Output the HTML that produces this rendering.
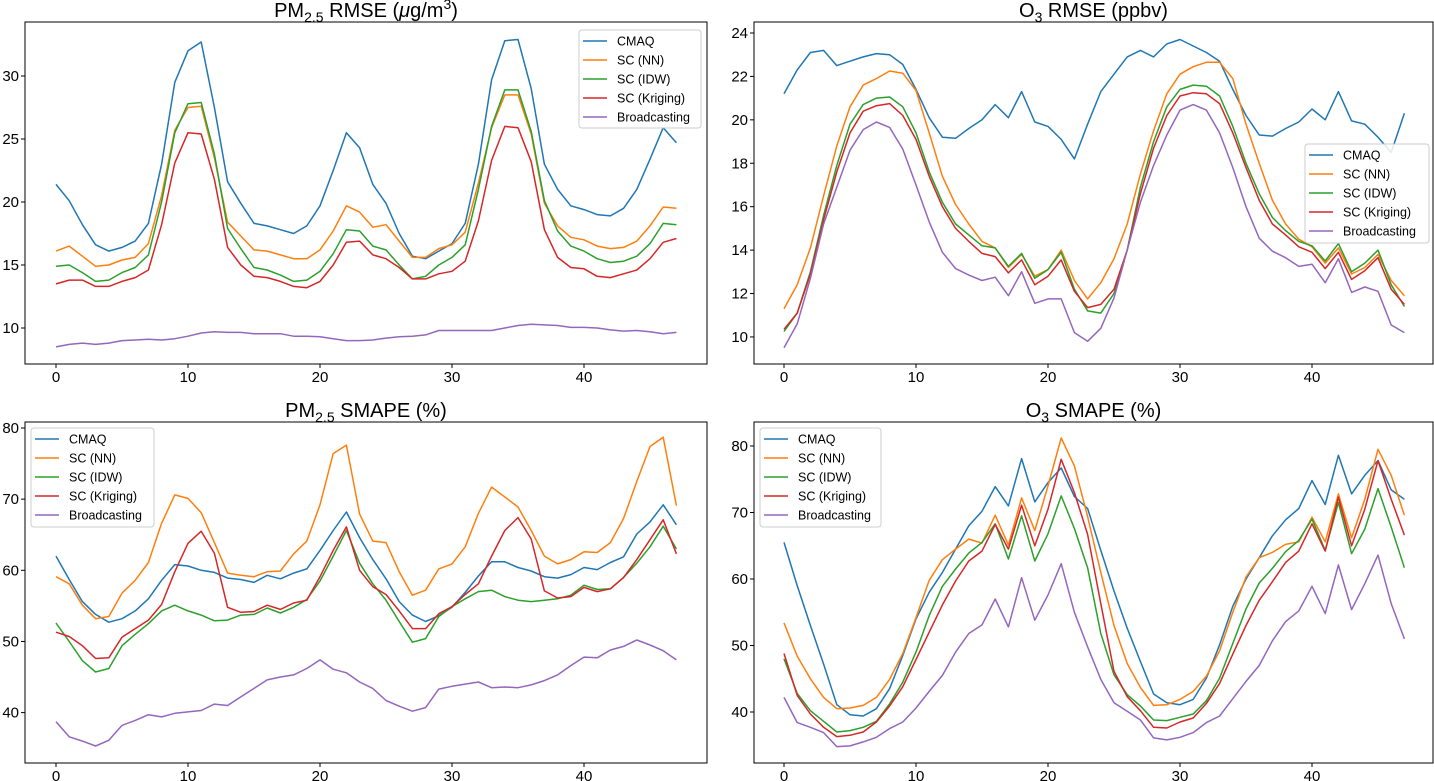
<!DOCTYPE html>
<html><head><meta charset="utf-8"><style>
html,body{margin:0;padding:0;background:#fff;}
svg{display:block;font-family:"Liberation Sans","DejaVu Sans",sans-serif;}
</style></head><body>
<svg id="fig" width="1434" height="781" viewBox="0 0 1434 781" xmlns="http://www.w3.org/2000/svg"></svg>
<script>
const seriesNames = ["CMAQ","SC (NN)","SC (IDW)","SC (Kriging)","Broadcasting"];
const colors = ["#1f77b4","#ff7f0e","#2ca02c","#d62728","#9467bd"];
const xTicks = [0,10,20,30,40];

const pmRmseCMAQ = [21.4,20.1,18.2,16.6,16.1,16.4,16.9,18.3,23,29.5,32,32.7,27.5,21.6,19.9,18.3,18.1,17.8,17.5,18.1,19.7,22.5,25.5,24.3,21.4,19.9,17.5,15.7,15.5,16.1,16.7,18.3,23,29.7,32.8,32.9,29,23,21,19.7,19.4,19.0,18.9,19.5,21,23.4,25.9,24.7];
const pmRmseNN = [16.1,16.5,15.7,14.9,15.0,15.4,15.6,16.7,20.5,25.7,27.5,27.6,23.5,18.4,17.3,16.2,16.1,15.8,15.5,15.5,16.2,17.7,19.7,19.2,18.0,18.2,16.9,15.6,15.6,16.3,16.6,17.6,21.5,25.9,28.5,28.5,25.4,19.9,18.1,17.2,17.0,16.5,16.3,16.4,16.9,18.1,19.6,19.5];
const pmRmseIDW = [14.9,15.0,14.4,13.7,13.8,14.4,14.8,15.8,20,25.5,27.8,27.9,23.8,17.9,16.3,14.8,14.6,14.2,13.7,13.8,14.5,15.9,17.8,17.7,16.5,16.2,15.0,13.9,14.1,15.0,15.6,16.6,21,26,28.9,28.9,25.6,20.1,17.7,16.5,16.1,15.5,15.2,15.3,15.7,16.7,18.3,18.2];
const pmRmseKrig = [13.5,13.8,13.8,13.3,13.3,13.7,14.0,14.6,18.2,23.1,25.5,25.4,21.8,16.4,15.0,14.1,14.0,13.7,13.3,13.2,13.7,15.0,16.8,16.9,15.8,15.5,14.8,13.9,13.9,14.3,14.5,15.3,18.5,23.3,26,25.9,23.2,17.8,15.6,14.8,14.7,14.1,14.0,14.3,14.6,15.5,16.8,17.1];
const pmRmseBroad = [8.5,8.7,8.8,8.7,8.8,9.0,9.05,9.1,9.05,9.15,9.35,9.6,9.7,9.65,9.65,9.55,9.55,9.55,9.35,9.35,9.3,9.15,9.0,9.0,9.05,9.2,9.3,9.35,9.45,9.8,9.8,9.8,9.8,9.8,10.0,10.2,10.3,10.25,10.2,10.05,10.05,10.0,9.85,9.75,9.8,9.7,9.55,9.65];
const pmRmseYTicks = [10,15,20,25,30];

const o3RmseCMAQ = [21.2,22.3,23.1,23.2,22.5,22.7,22.9,23.05,23,22.55,21.4,20.1,19.2,19.15,19.6,20.0,20.7,20.1,21.3,19.9,19.7,19.1,18.2,19.8,21.3,22.1,22.9,23.2,22.9,23.5,23.7,23.4,23.1,22.7,21.4,20.2,19.3,19.25,19.6,19.9,20.5,20.0,21.3,19.95,19.8,19.2,18.5,20.3];
const o3RmseNN = [11.3,12.4,14.1,16.5,18.8,20.6,21.6,21.9,22.25,22.15,21.35,19.4,17.4,16.1,15.2,14.4,14.1,13.2,13.8,12.8,13.1,14.0,12.6,11.75,12.5,13.6,15.2,17.5,19.5,21.2,22.1,22.45,22.65,22.65,21.9,19.8,18.0,16.3,15.2,14.5,14.15,13.4,14.1,12.9,13.2,13.8,12.6,11.9];
const o3RmseIDW = [10.25,11.1,13.0,15.6,17.9,19.8,20.7,21.0,21.05,20.6,19.4,17.6,16.2,15.2,14.7,14.2,14.1,13.25,13.85,12.7,13.1,13.9,12.2,11.2,11.1,12.0,14.0,16.9,19.0,20.6,21.4,21.6,21.55,21.1,19.7,18.0,16.6,15.5,14.9,14.4,14.2,13.5,14.3,13.0,13.4,14.0,12.4,11.4];
const o3RmseKrig = [10.35,11.1,12.9,15.4,17.6,19.4,20.4,20.65,20.75,20.2,19.1,17.4,16.0,15.0,14.4,13.85,13.7,12.95,13.55,12.4,12.8,13.55,12.1,11.35,11.5,12.2,14.0,16.6,18.7,20.2,21.1,21.25,21.2,20.75,19.4,17.8,16.3,15.2,14.7,14.15,13.9,13.15,13.9,12.65,13.05,13.65,12.2,11.5];
const o3RmseBroad = [9.5,10.6,12.7,15.2,16.9,18.6,19.55,19.9,19.65,18.65,17.0,15.3,13.9,13.15,12.85,12.6,12.75,11.9,13.0,11.55,11.75,11.75,10.2,9.8,10.4,11.8,14.0,16.2,17.9,19.3,20.45,20.7,20.45,19.4,17.8,16.0,14.55,13.95,13.65,13.25,13.35,12.5,13.6,12.05,12.3,12.1,10.55,10.2];
const o3RmseYTicks = [10,12,14,16,18,20,22,24];

const pmSmapeCMAQ = [62.0,58.7,55.6,53.8,52.7,53.2,54.3,56.0,58.6,60.8,60.6,60.0,59.7,58.9,58.7,58.3,59.3,58.8,59.6,60.2,62.8,65.6,68.2,64.6,61.5,58.8,55.6,53.7,52.8,53.6,54.8,56.9,59.2,61.2,61.2,60.4,59.9,59.1,58.9,59.4,60.4,60.1,61.1,61.9,65.1,66.8,69.2,66.4];
const pmSmapeNN = [59.1,58.1,55.1,53.2,53.5,56.8,58.6,61.1,66.6,70.6,70.1,68.1,63.9,59.6,59.3,59.1,59.8,59.9,62.3,64.1,69.2,76.4,77.6,67.9,64.1,63.9,59.8,56.5,57.2,60.2,60.9,63.3,68.0,71.7,70.3,68.9,65.6,62.0,60.9,61.5,62.6,62.5,63.9,67.3,72.5,77.4,78.7,69.1];
const pmSmapeIDW = [52.6,50.0,47.3,45.7,46.2,49.4,51.0,52.5,54.3,55.1,54.3,53.7,52.9,53.0,53.7,53.8,54.7,54.0,54.8,55.9,58.5,62.0,65.6,61.0,58.1,55.8,52.8,49.9,50.4,53.5,54.9,56.0,57.0,57.2,56.3,55.8,55.6,55.8,56.0,56.5,57.9,57.3,57.4,59.0,61.0,63.3,66.2,63.0];
const pmSmapeKrig = [51.3,50.7,49.4,47.6,47.7,50.6,51.8,53.0,55.2,59.8,63.8,65.5,62.4,54.8,54.1,54.2,55.1,54.5,55.4,55.8,59.1,62.8,66.1,60.0,57.7,56.6,54.3,51.8,51.8,53.9,54.9,56.6,58.1,62.0,65.6,67.4,64.4,57.1,56.1,56.3,57.6,57.0,57.4,59.0,61.5,64.3,67.1,62.3];
const pmSmapeBroad = [38.7,36.6,36.0,35.3,36.1,38.2,38.9,39.7,39.4,39.9,40.1,40.3,41.2,41.0,42.2,43.4,44.6,45.0,45.3,46.2,47.4,46.1,45.6,44.3,43.4,41.7,40.9,40.2,40.7,43.3,43.7,44.0,44.3,43.5,43.6,43.5,43.9,44.5,45.3,46.6,47.8,47.7,48.8,49.3,50.2,49.5,48.7,47.4];
const pmSmapeYTicks = [40,50,60,70,80];

const o3SmapeCMAQ = [65.5,59,53,47.2,41.1,39.6,39.4,40.5,43.5,48.5,54.0,58.0,61.0,64.5,68.0,70.2,73.9,71.0,78.1,71.6,74.5,76.7,72.4,70.6,64.3,58.2,52.6,47.6,42.7,41.4,41.1,41.9,45.1,50.1,55.9,60.0,63.2,66.5,68.9,70.6,74.8,71.2,78.6,72.8,75.6,77.8,73.4,72.0];
const o3SmapeNN = [53.4,48.4,45.0,42.2,40.5,40.6,41.0,42.2,44.9,48.8,54.2,59.8,62.9,64.5,66.0,65.4,69.6,65.1,72.2,67.3,74.0,81.2,77.0,69.4,61.0,53.0,47.3,43.7,41.0,41.1,41.9,43.1,45.4,49.2,55.0,60.3,63.2,64.0,65.2,65.6,69.3,65.6,72.8,66.2,72.0,79.5,75.6,69.6];
const o3SmapeIDW = [48.0,42.8,40.2,38.6,37.0,37.2,37.7,38.6,41.2,44.5,49.0,54.5,58.9,61.5,63.9,65.5,68.3,63.0,69.5,62.7,66.8,72.5,67.6,61.7,51.8,45.6,42.6,40.9,38.8,38.7,39.2,39.7,41.7,45.1,50.3,55.5,59.4,61.6,64.1,65.8,69.0,64.3,71.5,63.8,67.5,73.6,67.8,61.7];
const o3SmapeKrig = [48.8,42.5,39.7,37.7,36.3,36.5,37.0,38.5,40.9,43.8,47.9,52.0,56.1,59.7,62.7,64.2,68.2,64.5,71.1,65.0,70.5,78.0,73.0,66.7,56.3,46.1,42.3,40.2,37.7,37.6,38.5,39.1,41.3,44.3,48.7,53.0,56.8,59.6,62.5,64.2,68.3,64.2,72.3,65.0,70.5,77.8,72.0,66.6];
const o3SmapeBroad = [42.2,38.4,37.7,36.9,34.8,34.9,35.5,36.2,37.5,38.5,40.6,43.1,45.5,49.0,51.8,53.1,57.0,52.8,60.2,53.8,57.6,62.3,55.0,49.8,44.9,41.4,40.1,38.8,36.1,35.8,36.2,36.9,38.4,39.4,42.0,44.6,47.0,50.7,53.6,55.2,58.9,54.8,62.1,55.4,59.3,63.6,56.3,51.0];
const o3SmapeYTicks = [40,50,60,70,80];

const NS = "http://www.w3.org/2000/svg";
const svg = document.getElementById("fig");
function mk(tag, attrs, parent){
  const e = document.createElementNS(NS, tag);
  for (const k in attrs) e.setAttribute(k, attrs[k]);
  (parent||svg).appendChild(e);
  return e;
}

const panels = [
  {key:"pm25-rmse", sub:"2.5", pre:"PM", post:" RMSE (", unitItalic:"μ", post2:"g/m", sup:"3", post3:")",
   L:25,R:707,T:22,B:364, x0:56, xs:13.2, yv0:30, yp0:76, ys:12.6, xlab:18,
   series:[pmRmseCMAQ,pmRmseNN,pmRmseIDW,pmRmseKrig,pmRmseBroad], yTicks:pmRmseYTicks,
   legend:{x:579,y:30,w:122,h:98}},
  {key:"o3-rmse", sub:"3", pre:"O", post:" RMSE (ppbv)",
   L:754,R:1433,T:22,B:364, x0:784, xs:13.2, yv0:24, yp0:33, ys:21.71, xlab:18,
   series:[o3RmseCMAQ,o3RmseNN,o3RmseIDW,o3RmseKrig,o3RmseBroad], yTicks:o3RmseYTicks,
   legend:{x:1305,y:144,w:124,h:99}},
  {key:"pm25-smape", sub:"2.5", pre:"PM", post:" SMAPE (%)",
   L:25,R:707,T:422,B:763, x0:56, xs:13.2, yv0:80, yp0:428, ys:7.115, xlab:18,
   series:[pmSmapeCMAQ,pmSmapeNN,pmSmapeIDW,pmSmapeKrig,pmSmapeBroad], yTicks:pmSmapeYTicks,
   legend:{x:31,y:428,w:123,h:99}},
  {key:"o3-smape", sub:"3", pre:"O", post:" SMAPE (%)",
   L:754,R:1433,T:422,B:763, x0:784, xs:13.2, yv0:80, yp0:446, ys:6.65, xlab:18,
   series:[o3SmapeCMAQ,o3SmapeNN,o3SmapeIDW,o3SmapeKrig,o3SmapeBroad], yTicks:o3SmapeYTicks,
   legend:{x:760,y:428,w:121,h:99}}
];

panels.forEach(p => {
  const xPx = v => p.x0 + v*p.xs;
  const yPx = v => p.yp0 + (p.yv0 - v)*p.ys;
  const g = mk("g", {});
  
  

  const t = mk("text", {x:(p.L+p.R)/2, y:p.T-5, "text-anchor":"middle", "font-size":"20", fill:"#000"}, g);
  
  
  const a = mk("tspan", {}, t); a.textContent = p.pre;
  const s = mk("tspan", {"font-size":"14", dy:"5"}, t); s.textContent = p.sub;
  const b = mk("tspan", {dy:"-5"}, t); b.textContent = p.post;
  if (p.unitItalic){
    const it = mk("tspan", {"font-style":"italic"}, t); it.textContent = p.unitItalic;
    const c = mk("tspan", {}, t); c.textContent = p.post2;
    const sp = mk("tspan", {"font-size":"14", dy:"-8"}, t); sp.textContent = p.sup;
    const d = mk("tspan", {dy:"8"}, t); d.textContent = p.post3;
  }

  p.series.forEach((arr, i) => {
    const pts = arr.map((v, k) => xPx(k).toFixed(1) + "," + yPx(v).toFixed(1)).join(" ");
    const pl = mk("polyline", {points:pts, fill:"none", stroke:colors[i], "stroke-width":"1.5", "stroke-linejoin":"round"}, g);
    
    
  });

  const fr = mk("rect", {x:p.L, y:p.T, width:p.R-p.L, height:p.B-p.T, fill:"none", stroke:"#000", "stroke-width":"1"}, g);
  
  

  xTicks.forEach(v => {
    const x = xPx(v);
    mk("line", {x1:x, x2:x, y1:p.B, y2:p.B+4, stroke:"#000", "stroke-width":"1"}, g);
    const tl = mk("text", {x:x, y:p.B+p.xlab, "text-anchor":"middle", "font-size":"15", fill:"#000"}, g);
    tl.textContent = v;
    
    
  });
  p.yTicks.forEach(v => {
    const y = yPx(v);
    mk("line", {x1:p.L-4, x2:p.L, y1:y, y2:y, stroke:"#000", "stroke-width":"1"}, g);
    const tl = mk("text", {x:p.L-6, y:y+5, "text-anchor":"end", "font-size":"15", fill:"#000"}, g);
    tl.textContent = v;
    
    
  });

  const lg = mk("g", {}, g);
  
  
  mk("rect", {x:p.legend.x, y:p.legend.y, width:p.legend.w, height:p.legend.h, rx:"3", fill:"#fff", "fill-opacity":"0.85", stroke:"#ccc", "stroke-width":"1"}, lg);
  seriesNames.forEach((n, i) => {
    const yy = p.legend.y + 11 + i*19;
    mk("line", {x1:p.legend.x+4, x2:p.legend.x+28, y1:yy, y2:yy, stroke:colors[i], "stroke-width":"1.5"}, lg);
    const et = mk("text", {x:p.legend.x+38, y:yy+4.5, "font-size":"12.5", fill:"#000"}, lg);
    et.textContent = n;
    
    
  });
});
</script>
</body></html>
